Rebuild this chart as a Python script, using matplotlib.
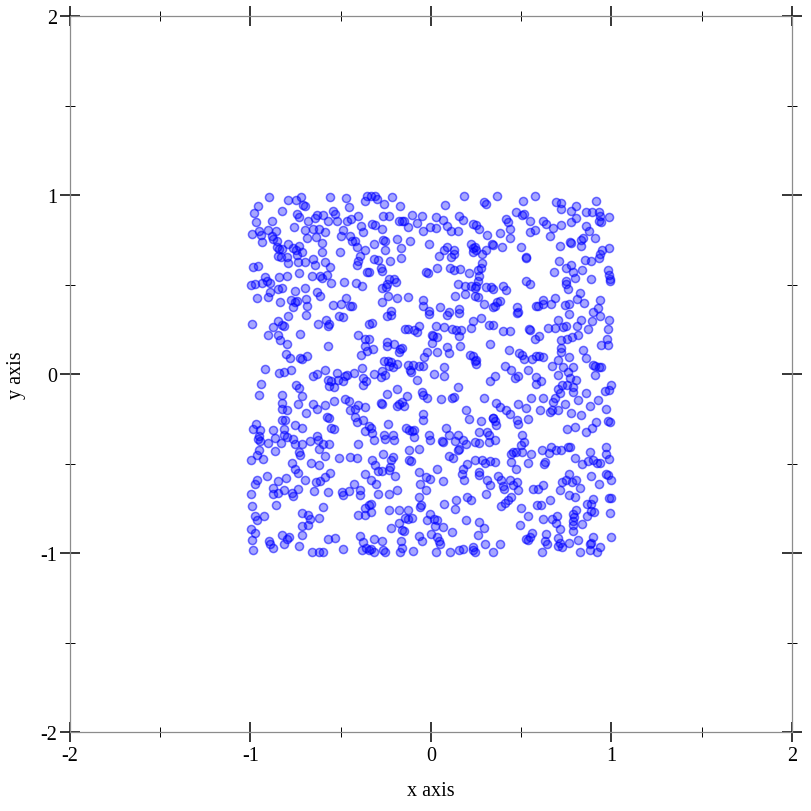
import numpy as np
import matplotlib
matplotlib.use("Agg")
import matplotlib.pyplot as plt
from matplotlib.ticker import MultipleLocator

plt.rcParams["font.family"] = ["Liberation Serif", "DejaVu Serif"]
plt.rcParams["axes.unicode_minus"] = False

# points, grouped by region of the square
top_left = [
    (-0.90, 0.99), (-0.79, 0.97), (-0.75, 0.97), (-0.72, 0.99), (-0.71, 0.945), (-0.70, 0.937),
    (-0.56, 0.99), (-0.47, 0.984), (-0.364, 0.969), (-0.355, 0.995), (-0.956, 0.937), (-0.978, 0.898),
    (-0.827, 0.911), (-0.743, 0.894), (-0.734, 0.876), (-0.633, 0.891), (-0.596, 0.891), (-0.544, 0.909),
    (-0.531, 0.894), (-0.453, 0.935), (-0.405, 0.881), (-0.442, 0.866), (-0.642, 0.870), (-0.882, 0.857),
    (-0.967, 0.848), (-0.679, 0.857), (-0.568, 0.853), (-0.522, 0.852), (-0.468, 0.852), (-0.389, 0.829),
    (-0.993, 0.783), (-0.952, 0.801), (-0.943, 0.777), (-0.904, 0.807), (-0.860, 0.801), (-0.882, 0.773),
    (-0.873, 0.755), (-0.758, 0.820), (-0.697, 0.805), (-0.653, 0.811), (-0.620, 0.811), (-0.586, 0.792),
    (-0.636, 0.768), (-0.686, 0.760), (-0.490, 0.807), (-0.446, 0.770), (-0.435, 0.745), (-0.420, 0.745),
    (-0.374, 0.792), (-0.499, 0.770), (-0.934, 0.736), (-0.854, 0.745), (-0.854, 0.708), (-0.790, 0.727),
    (-0.762, 0.703), (-0.749, 0.695), (-0.734, 0.717), (-0.840, 0.699), (-0.823, 0.699), (-0.712, 0.680),
    (-0.605, 0.732), (-0.605, 0.684), (-0.503, 0.684), (-0.411, 0.708), (-0.364, 0.690), (-0.845, 0.662),
    (-0.832, 0.652), (-0.799, 0.656), (-0.743, 0.665), (-0.790, 0.621), (-0.738, 0.628), (-0.697, 0.628),
    (-0.651, 0.643), (-0.642, 0.610), (-0.586, 0.624), (-0.392, 0.662), (-0.402, 0.634), (-0.411, 0.611),
    (-0.984, 0.598), (-0.956, 0.606), (-0.562, 0.598), (-0.355, 0.568), (-0.919, 0.541), (-0.910, 0.522),
    (-0.997, 0.498), (-0.975, 0.503), (-0.938, 0.509), (-0.891, 0.509), (-0.840, 0.541), (-0.799, 0.550),
    (-0.734, 0.563), (-0.660, 0.550), (-0.614, 0.546), (-0.605, 0.535), (-0.577, 0.554), (-0.553, 0.507),
    (-0.481, 0.516), (-0.414, 0.509), (-0.383, 0.490), (-0.845, 0.475), (-0.823, 0.481), (-0.753, 0.466),
    (-0.697, 0.481), (-0.633, 0.457), (-0.614, 0.434), (-0.891, 0.457), (-0.904, 0.429), (-0.965, 0.427),
    (-0.836, 0.401), (-0.775, 0.416), (-0.753, 0.405), (-0.743, 0.410), (-0.694, 0.419), (-0.762, 0.373),
    (-0.688, 0.379), (-0.545, 0.388), (-0.499, 0.393), (-0.469, 0.425), (-0.446, 0.379), (-0.438, 0.382),
]

top_mid = [
    (-0.334, 0.995), (-0.310, 0.993), (-0.297, 0.978), (-0.214, 0.987), (0.184, 0.993), (0.295, 0.963),
    (0.304, 0.950), (-0.260, 0.950), (-0.173, 0.937), (0.078, 0.945), (-0.265, 0.885), (-0.232, 0.885),
    (-0.103, 0.891), (-0.051, 0.881), (0.027, 0.879), (0.067, 0.863), (0.156, 0.885), (0.180, 0.863),
    (0.230, 0.838), (0.252, 0.833), (0.267, 0.811), (0.308, 0.777), (-0.325, 0.838), (-0.310, 0.833),
    (-0.177, 0.857), (-0.158, 0.852), (-0.149, 0.857), (-0.075, 0.842), (-0.125, 0.820), (-0.044, 0.797),
    (-0.007, 0.820), (0.030, 0.814), (0.091, 0.825), (0.110, 0.801), (0.152, 0.801), (-0.269, 0.811),
    (-0.315, 0.727), (-0.265, 0.751), (-0.254, 0.745), (-0.186, 0.755), (-0.118, 0.745), (-0.010, 0.727),
    (0.073, 0.695), (0.091, 0.708), (0.128, 0.695), (0.223, 0.727), (0.230, 0.703), (0.245, 0.712),
    (0.252, 0.690), (0.285, 0.671), (0.304, 0.690), (0.337, 0.727), (-0.254, 0.695), (-0.164, 0.704),
    (0.045, 0.658), (0.110, 0.652), (0.128, 0.671), (0.234, 0.684), (-0.315, 0.643), (-0.291, 0.639),
    (-0.227, 0.630), (-0.164, 0.649), (0.285, 0.621), (-0.278, 0.591), (-0.269, 0.578), (-0.029, 0.568),
    (-0.014, 0.565), (0.036, 0.591), (0.104, 0.591), (0.128, 0.581), (0.160, 0.587), (0.212, 0.565),
    (0.258, 0.581), (0.276, 0.593), (0.267, 0.546), (0.258, 0.522), (-0.343, 0.572), (-0.232, 0.531),
    (-0.204, 0.531), (-0.195, 0.513), (-0.241, 0.503), (-0.251, 0.485), (-0.269, 0.481), (0.147, 0.503),
    (0.189, 0.494), (0.221, 0.490), (0.245, 0.481), (0.252, 0.494), (0.304, 0.488), (0.332, 0.485),
    (-0.236, 0.434), (-0.186, 0.423), (-0.130, 0.429), (-0.047, 0.416), (-0.047, 0.382), (-0.269, 0.405),
    (0.049, 0.375), (0.132, 0.434), (0.189, 0.447), (0.245, 0.434), (0.258, 0.429), (0.295, 0.392),
    (0.345, 0.373), (-0.223, 0.354), (-0.010, 0.354), (0.156, 0.364), (0.101, 0.349),
]

top_right = [
    (0.365, 0.995), (0.574, 0.995), (0.509, 0.965), (0.691, 0.960), (0.718, 0.956), (0.722, 0.919),
    (0.805, 0.941), (0.916, 0.965), (0.417, 0.866), (0.426, 0.848), (0.439, 0.811), (0.469, 0.904),
    (0.506, 0.889), (0.513, 0.894), (0.550, 0.852), (0.620, 0.857), (0.639, 0.838), (0.676, 0.816),
    (0.722, 0.833), (0.774, 0.909), (0.777, 0.848), (0.805, 0.870), (0.857, 0.907), (0.892, 0.907),
    (0.931, 0.904), (0.934, 0.885), (0.931, 0.852), (0.944, 0.848), (0.986, 0.876), (0.861, 0.829),
    (0.875, 0.801), (0.380, 0.786), (0.435, 0.758), (0.550, 0.792), (0.574, 0.807), (0.661, 0.770),
    (0.768, 0.736), (0.777, 0.732), (0.833, 0.751), (0.842, 0.758), (0.907, 0.758), (0.343, 0.721),
    (0.395, 0.708), (0.500, 0.708), (0.713, 0.717), (0.833, 0.714), (0.524, 0.649), (0.528, 0.652),
    (0.709, 0.634), (0.851, 0.639), (0.888, 0.634), (0.931, 0.649), (0.938, 0.671), (0.949, 0.695),
    (0.984, 0.703), (0.679, 0.572), (0.746, 0.591), (0.777, 0.609), (0.787, 0.572), (0.837, 0.583),
    (0.981, 0.583), (0.986, 0.554), (0.990, 0.528), (0.994, 0.522), (0.796, 0.535), (0.746, 0.522),
    (0.750, 0.503), (0.759, 0.475), (0.888, 0.528), (0.524, 0.522), (0.546, 0.503), (0.398, 0.494),
    (0.413, 0.470), (0.343, 0.475), (0.824, 0.453), (0.935, 0.416), (0.811, 0.419), (0.685, 0.423),
    (0.620, 0.416), (0.620, 0.392), (0.583, 0.379), (0.593, 0.379), (0.666, 0.392), (0.740, 0.386),
    (0.764, 0.392), (0.846, 0.397), (0.925, 0.367), (0.898, 0.349), (0.478, 0.373), (0.482, 0.349),
    (0.384, 0.406), (0.365, 0.401), (0.352, 0.379),
]

mid_left = [
    (-0.993, 0.280), (-0.878, 0.263), (-0.849, 0.294), (-0.827, 0.276), (-0.812, 0.267), (-0.793, 0.326),
    (-0.692, 0.332), (-0.627, 0.280), (-0.583, 0.304), (-0.572, 0.267), (-0.564, 0.281), (-0.512, 0.326),
    (-0.485, 0.319), (-0.346, 0.281), (-0.901, 0.216), (-0.845, 0.216), (-0.836, 0.192), (-0.799, 0.168),
    (-0.725, 0.226), (-0.572, 0.159), (-0.405, 0.220), (-0.365, 0.196), (-0.365, 0.155), (-0.387, 0.108),
    (-0.355, 0.127), (-0.804, 0.114), (-0.780, 0.090), (-0.725, 0.090), (-0.712, 0.084), (-0.688, 0.099),
    (-0.919, 0.028), (-0.840, 0.006), (-0.812, 0.011), (-0.775, 0.024), (-0.651, -0.013), (-0.633, 0.002),
    (-0.590, 0.021), (-0.572, -0.031), (-0.564, -0.065), (-0.553, -0.041), (-0.540, -0.072), (-0.522, 0.006),
    (-0.516, -0.031), (-0.490, -0.041), (-0.475, -0.009), (-0.466, -0.004), (-0.429, 0.006), (-0.383, 0.034),
    (-0.374, -0.022), (-0.379, -0.059), (-0.361, -0.041), (-0.941, -0.056), (-0.952, -0.117), (-0.749, -0.063),
    (-0.731, -0.078), (-0.712, -0.125), (-0.827, -0.117), (-0.827, -0.162), (-0.823, -0.195), (-0.799, -0.199),
    (-0.738, -0.167), (-0.651, -0.167), (-0.633, -0.195), (-0.586, -0.175), (-0.540, -0.152), (-0.475, -0.139),
    (-0.457, -0.152), (-0.448, -0.199), (-0.420, -0.195), (-0.402, -0.171), (-0.365, -0.184), (-0.694, -0.218),
    (-0.969, -0.277), (-0.984, -0.307), (-0.947, -0.314), (-0.873, -0.311), (-0.827, -0.255), (-0.808, -0.259),
    (-0.817, -0.307), (-0.753, -0.283), (-0.716, -0.301), (-0.577, -0.240), (-0.564, -0.246), (-0.553, -0.301),
    (-0.540, -0.307), (-0.420, -0.240), (-0.411, -0.270), (-0.374, -0.255), (-0.365, -0.320), (-0.342, -0.292),
    (-0.952, -0.348), (-0.812, -0.339), (-0.633, -0.348),
]

center = [
    (-0.241, 0.322), (-0.223, 0.332), (-0.010, 0.337), (0.086, 0.328), (0.156, 0.341), (-0.325, 0.285),
    (-0.143, 0.253), (-0.125, 0.252), (-0.093, 0.244), (-0.075, 0.233), (-0.069, 0.270), (0.004, 0.220),
    (0.012, 0.214), (0.036, 0.207), (0.027, 0.267), (0.073, 0.263), (0.115, 0.252), (0.141, 0.248),
    (0.165, 0.244), (0.156, 0.214), (0.221, 0.257), (0.234, 0.294), (0.276, 0.313), (0.322, 0.276),
    (0.326, 0.170), (-0.343, 0.196), (-0.321, 0.140), (-0.241, 0.177), (-0.204, 0.170), (-0.241, 0.158),
    (-0.173, 0.140), (-0.162, 0.145), (-0.177, 0.121), (0.004, 0.173), (-0.020, 0.121), (-0.038, 0.095),
    (0.036, 0.121), (0.086, 0.149), (0.101, 0.118), (0.160, 0.155), (-0.260, 0.071), (-0.236, 0.071),
    (-0.223, 0.065), (-0.232, 0.047), (-0.269, 0.015), (-0.254, -0.004), (-0.278, -0.017), (-0.315, 0.000),
    (-0.210, 0.039), (-0.186, 0.058), (-0.125, 0.052), (-0.118, 0.024), (-0.112, 0.010), (-0.099, 0.052),
    (-0.066, 0.047), (-0.044, 0.043), (-0.075, -0.031), (0.017, 0.002), (0.073, 0.037), (0.073, -0.013),
    (0.215, 0.108), (0.230, 0.099), (0.249, 0.080), (0.252, 0.058), (0.245, 0.071), (-0.241, -0.112),
    (-0.191, -0.084), (-0.134, -0.121), (-0.051, -0.100), (-0.044, -0.115), (-0.020, -0.134), (0.054, -0.139),
    (0.115, -0.134), (0.128, -0.130), (0.152, -0.072), (0.295, -0.134), (0.326, -0.041), (-0.278, -0.162),
    (-0.269, -0.166), (-0.177, -0.166), (-0.158, -0.158), (-0.191, -0.180), (-0.149, -0.180), (-0.047, -0.221),
    (-0.047, -0.259), (0.193, -0.199), (0.212, -0.251), (0.276, -0.264), (0.345, -0.246), (-0.236, -0.279),
    (-0.334, -0.301), (-0.325, -0.329), (-0.260, -0.339), (-0.210, -0.339), (-0.136, -0.301), (-0.121, -0.315),
    (-0.106, -0.320), (-0.093, -0.311), (-0.010, -0.339), (0.082, -0.301), (0.101, -0.339), (0.152, -0.339),
    (0.267, -0.326), (0.313, -0.326), (0.322, -0.339),
]

mid_right = [
    (0.476, 0.341), (0.703, 0.304), (0.764, 0.337), (0.833, 0.304), (0.894, 0.294), (0.938, 0.326),
    (0.986, 0.300), (0.343, 0.276), (0.398, 0.239), (0.439, 0.239), (0.543, 0.252), (0.550, 0.244),
    (0.648, 0.257), (0.685, 0.257), (0.731, 0.263), (0.746, 0.267), (0.809, 0.267), (0.870, 0.252),
    (0.981, 0.252), (0.574, 0.196), (0.598, 0.211), (0.722, 0.192), (0.753, 0.196), (0.783, 0.207),
    (0.814, 0.220), (0.944, 0.164), (0.975, 0.196), (0.981, 0.160), (0.432, 0.132), (0.487, 0.118),
    (0.506, 0.108), (0.513, 0.086), (0.561, 0.084), (0.580, 0.099), (0.598, 0.099), (0.620, 0.095),
    (0.703, 0.080), (0.722, 0.145), (0.722, 0.121), (0.764, 0.093), (0.842, 0.136), (0.857, 0.090),
    (0.408, 0.043), (0.445, 0.021), (0.482, -0.009), (0.463, -0.022), (0.537, 0.021), (0.583, -0.017),
    (0.580, -0.054), (0.611, -0.041), (0.672, 0.043), (0.703, -0.004), (0.731, 0.039), (0.759, 0.010),
    (0.772, -0.022), (0.801, -0.031), (0.787, 0.039), (0.898, 0.049), (0.907, 0.047), (0.931, 0.039),
    (0.944, 0.039), (0.907, -0.004), (0.352, -0.009), (0.703, -0.084), (0.727, -0.059), (0.753, -0.059),
    (0.787, -0.072), (0.787, -0.102), (0.857, -0.106), (0.962, -0.097), (0.986, -0.087), (0.995, -0.059),
    (0.361, -0.162), (0.482, -0.166), (0.556, -0.134), (0.620, -0.134), (0.685, -0.134), (0.676, -0.158),
    (0.713, -0.106), (0.740, -0.166), (0.814, -0.143), (0.925, -0.147), (0.879, -0.180), (0.971, -0.195),
    (0.384, -0.184), (0.417, -0.203), (0.439, -0.221), (0.476, -0.255), (0.482, -0.277), (0.528, -0.190),
    (0.537, -0.251), (0.605, -0.203), (0.661, -0.214), (0.672, -0.203), (0.703, -0.199), (0.777, -0.218),
    (0.833, -0.227), (0.916, -0.270), (0.981, -0.264), (0.990, -0.270), (0.343, -0.246), (0.352, -0.264),
    (0.361, -0.283), (0.506, -0.339), (0.753, -0.307), (0.796, -0.296), (0.857, -0.326), (0.894, -0.301),
]

bottom_left = [
    (-0.956, -0.361), (-0.947, -0.374), (-0.904, -0.386), (-0.864, -0.356), (-0.830, -0.386), (-0.799, -0.352),
    (-0.762, -0.361), (-0.753, -0.393), (-0.712, -0.393), (-0.670, -0.374), (-0.627, -0.367), (-0.620, -0.417),
    (-0.596, -0.393), (-0.590, -0.460), (-0.564, -0.393), (-0.402, -0.389), (-0.997, -0.482), (-0.965, -0.454),
    (-0.952, -0.423), (-0.928, -0.473), (-0.867, -0.430), (-0.768, -0.497), (-0.756, -0.529), (-0.734, -0.436),
    (-0.725, -0.454), (-0.738, -0.553), (-0.664, -0.497), (-0.620, -0.507), (-0.509, -0.469), (-0.448, -0.464),
    (-0.411, -0.467), (-0.965, -0.590), (-0.975, -0.616), (-0.910, -0.572), (-0.845, -0.598), (-0.804, -0.579),
    (-0.697, -0.590), (-0.638, -0.603), (-0.614, -0.598), (-0.586, -0.575), (-0.559, -0.553), (-0.368, -0.557),
    (-0.997, -0.669), (-0.873, -0.635), (-0.878, -0.672), (-0.845, -0.665), (-0.817, -0.646), (-0.771, -0.665),
    (-0.762, -0.682), (-0.738, -0.644), (-0.646, -0.656), (-0.568, -0.659), (-0.494, -0.659), (-0.485, -0.678),
    (-0.457, -0.654), (-0.429, -0.616), (-0.392, -0.646), (-0.392, -0.678), (-0.993, -0.739), (-0.858, -0.730),
    (-0.599, -0.743), (-0.975, -0.795), (-0.965, -0.814), (-0.923, -0.795), (-0.716, -0.777), (-0.683, -0.786),
    (-0.670, -0.808), (-0.620, -0.803), (-0.405, -0.790), (-0.368, -0.786), (-0.368, -0.749), (-0.346, -0.734),
    (-0.997, -0.864), (-0.975, -0.888), (-0.712, -0.851), (-0.683, -0.845), (-0.716, -0.898), (-0.827, -0.901),
    (-0.799, -0.920), (-0.786, -0.911), (-0.572, -0.920), (-0.531, -0.914), (-0.392, -0.905), (-0.379, -0.939),
    (-0.361, -0.970), (-0.989, -0.929), (-0.984, -0.981), (-0.897, -0.933), (-0.891, -0.952), (-0.873, -0.972),
    (-0.817, -0.952), (-0.734, -0.961), (-0.660, -0.997), (-0.620, -0.997), (-0.596, -0.994), (-0.485, -0.980),
    (-0.383, -0.981), (-0.346, -0.985),
]

bottom_mid = [
    (-0.315, -0.367), (-0.254, -0.361), (-0.204, -0.371), (-0.093, -0.352), (-0.007, -0.371), (0.060, -0.374),
    (0.067, -0.380), (0.134, -0.374), (0.178, -0.367), (0.267, -0.386), (0.245, -0.380), (0.319, -0.380),
    (-0.069, -0.417), (-0.121, -0.423), (0.147, -0.426), (0.156, -0.417), (0.193, -0.389), (-0.265, -0.449),
    (-0.325, -0.479), (-0.310, -0.510), (-0.291, -0.542), (-0.273, -0.542), (-0.223, -0.479), (-0.210, -0.464),
    (-0.228, -0.520), (-0.232, -0.534), (-0.121, -0.479), (-0.112, -0.486), (0.097, -0.460), (0.123, -0.467),
    (0.245, -0.479), (0.282, -0.479), (0.300, -0.497), (0.326, -0.486), (0.202, -0.505), (0.175, -0.529),
    (0.171, -0.557), (0.184, -0.590), (0.267, -0.548), (0.267, -0.566), (-0.334, -0.594), (-0.306, -0.616),
    (-0.199, -0.572), (-0.069, -0.548), (-0.029, -0.575), (-0.007, -0.585), (0.036, -0.529), (0.067, -0.600),
    (-0.062, -0.616), (-0.025, -0.646), (0.308, -0.590), (0.326, -0.622), (-0.291, -0.669), (-0.232, -0.672),
    (-0.186, -0.650), (-0.066, -0.687), (-0.056, -0.734), (-0.062, -0.743), (0.073, -0.728), (0.134, -0.752),
    (0.141, -0.702), (0.197, -0.687), (0.221, -0.706), (0.304, -0.672), (-0.334, -0.724), (-0.334, -0.771),
    (-0.232, -0.762), (-0.177, -0.762), (-0.125, -0.762), (-0.143, -0.803), (-0.125, -0.808), (-0.103, -0.803),
    (-0.020, -0.814), (-0.007, -0.784), (0.017, -0.808), (0.036, -0.814), (0.023, -0.851), (0.067, -0.855),
    (0.193, -0.814), (0.267, -0.827), (0.295, -0.859), (-0.223, -0.859), (-0.177, -0.832), (-0.158, -0.870),
    (-0.149, -0.877), (-0.069, -0.905), (-0.051, -0.933), (-0.001, -0.892), (0.036, -0.911), (0.049, -0.948),
    (0.045, -0.933), (0.115, -0.883), (0.258, -0.901), (0.300, -0.952), (0.230, -0.967), (-0.315, -0.920),
    (-0.273, -0.933), (-0.167, -0.933), (-0.334, -0.976), (-0.315, -0.997), (-0.265, -0.985), (-0.254, -0.994),
    (-0.173, -0.994), (-0.162, -0.970), (-0.099, -0.989), (0.030, -0.994), (0.104, -0.997), (0.156, -0.985),
    (0.175, -0.976), (0.234, -0.985), (0.245, -0.994), (0.345, -0.997),
]

bottom_right = [
    (0.352, -0.371), (0.513, -0.380), (0.500, -0.399), (0.454, -0.436), (0.445, -0.445), (0.469, -0.436),
    (0.506, -0.436), (0.445, -0.492), (0.469, -0.529), (0.556, -0.449), (0.537, -0.497), (0.617, -0.423),
    (0.666, -0.408), (0.654, -0.441), (0.691, -0.423), (0.722, -0.423), (0.759, -0.408), (0.772, -0.408),
    (0.879, -0.436), (0.870, -0.486), (0.898, -0.479), (0.920, -0.497), (0.938, -0.497), (0.971, -0.408),
    (0.971, -0.449), (0.986, -0.473), (0.796, -0.467), (0.838, -0.501), (0.630, -0.492), (0.624, -0.505),
    (0.352, -0.492), (0.371, -0.572), (0.389, -0.594), (0.398, -0.628), (0.402, -0.641), (0.439, -0.590),
    (0.454, -0.622), (0.476, -0.603), (0.482, -0.646), (0.565, -0.641), (0.593, -0.641), (0.620, -0.622),
    (0.713, -0.646), (0.727, -0.603), (0.750, -0.590), (0.764, -0.561), (0.783, -0.603), (0.805, -0.590),
    (0.827, -0.637), (0.888, -0.572), (0.931, -0.616), (0.968, -0.557), (0.981, -0.566), (0.995, -0.594),
    (0.389, -0.739), (0.408, -0.721), (0.426, -0.702), (0.445, -0.687), (0.500, -0.749), (0.587, -0.734),
    (0.611, -0.734), (0.661, -0.706), (0.764, -0.678), (0.796, -0.687), (0.898, -0.700), (0.864, -0.724),
    (0.888, -0.724), (0.986, -0.691), (0.995, -0.691), (0.537, -0.795), (0.491, -0.845), (0.620, -0.808),
    (0.672, -0.808), (0.698, -0.795), (0.691, -0.832), (0.713, -0.864), (0.787, -0.780), (0.790, -0.799),
    (0.805, -0.758), (0.787, -0.821), (0.787, -0.845), (0.787, -0.877), (0.838, -0.840), (0.864, -0.795),
    (0.888, -0.765), (0.901, -0.771), (0.990, -0.777), (0.561, -0.888), (0.550, -0.911), (0.524, -0.920),
    (0.537, -0.926), (0.639, -0.892), (0.630, -0.933), (0.642, -0.952), (0.703, -0.914), (0.713, -0.944),
    (0.703, -0.963), (0.727, -0.967), (0.764, -0.944), (0.814, -0.926), (0.888, -0.944), (0.898, -0.911),
    (0.883, -0.952), (0.935, -0.967), (0.995, -0.911), (0.384, -0.952), (0.617, -0.994), (0.827, -0.994),
    (0.883, -0.985), (0.920, -0.997),
]

blocks = [top_left, top_mid, top_right, mid_left, center, mid_right,
          bottom_left, bottom_mid, bottom_right]
pts = np.array([p for b in blocks for p in b])

fig = plt.figure(figsize=(8.12, 8.12), dpi=100)
ax = fig.add_axes([70 / 812, 79 / 812, 722 / 812, 716 / 812])

ax.scatter(pts[:, 0], pts[:, 1], s=34, facecolor=(0, 0, 1, 0.35),
           edgecolor=(0, 0, 1, 0.55), linewidth=1.1, zorder=3)

ax.set_xlim(-2, 2)
ax.set_ylim(-2, 2)
ax.xaxis.set_major_locator(MultipleLocator(1))
ax.yaxis.set_major_locator(MultipleLocator(1))
ax.xaxis.set_minor_locator(MultipleLocator(0.5))
ax.yaxis.set_minor_locator(MultipleLocator(0.5))

for sp in ax.spines.values():
    sp.set_color("#8c8c8c")
    sp.set_linewidth(0.9)

ax.tick_params(which="major", direction="inout", length=14.5, width=1.1,
               color="black", top=True, right=True, labelsize=14.5)
ax.tick_params(which="minor", direction="inout", length=7.5, width=0.7,
               color="black", top=True, right=True)
ax.tick_params(axis="x", which="major", pad=3)
ax.tick_params(axis="y", which="major", pad=2)

ax.set_xlabel("x axis", fontsize=14.5, labelpad=11)
ax.set_ylabel("y axis", fontsize=14.5, labelpad=10)

fig.savefig("out.png", dpi=100)
